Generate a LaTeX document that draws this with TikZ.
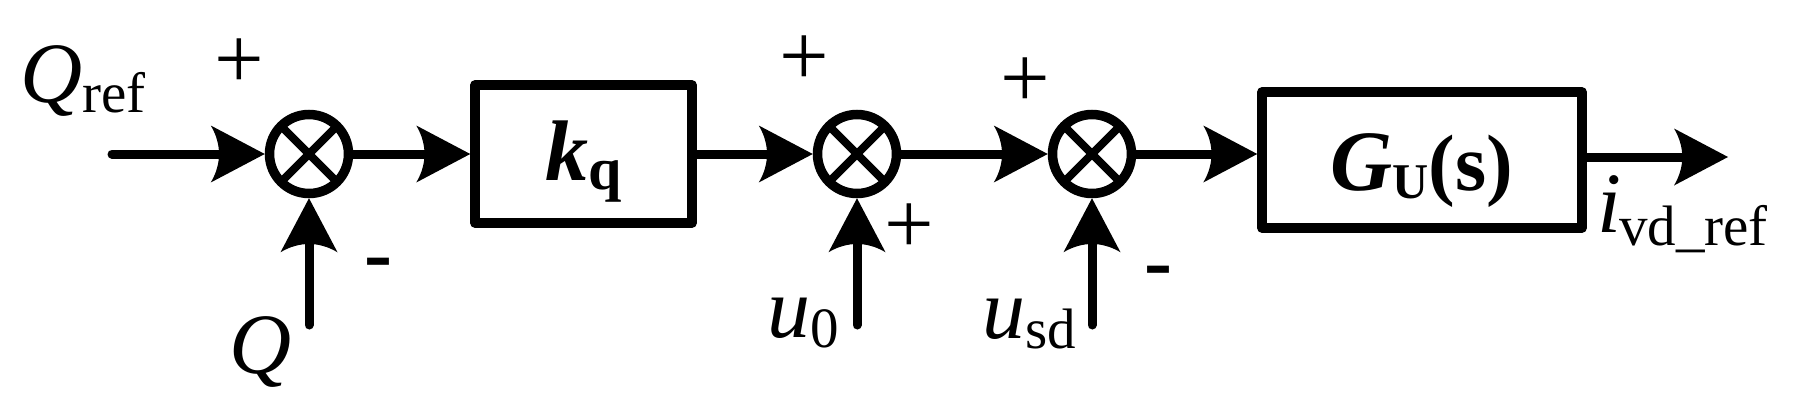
\documentclass[tikz,border=0pt]{standalone}
\usepackage{fontspec}
\setmainfont{Liberation Serif}
\usetikzlibrary{arrows.meta}
\pgfdeclarearrow{
  name = VS,
  setup code = {
    \pgfarrowssettipend{0pt}
    \pgfarrowssetlineend{-30pt}
    \pgfarrowssetbackend{-54pt}
    \pgfarrowssetvisualbackend{-46pt}
    \pgfarrowshullpoint{0pt}{0pt}
    \pgfarrowshullpoint{-54pt}{28.5pt}
    \pgfarrowshullpoint{-54pt}{-28.5pt}
  },
  drawing code = {
    \pgfpathmoveto{\pgfqpoint{0pt}{0pt}}
    \pgfpathlineto{\pgfqpoint{-54pt}{28.5pt}}
    \pgfpathcurveto{\pgfqpoint{-43pt}{10pt}}{\pgfqpoint{-43pt}{-10pt}}{\pgfqpoint{-54pt}{-28.5pt}}
    \pgfpathclose
    \pgfusepathqfill
  }
}
\newcommand\bigf{\fontsize{86}{90}\selectfont}
\newcommand\subf{\fontsize{57}{60}\selectfont}
\newcommand\lowr[2]{\raisebox{-#1pt}{\subf\upshape #2}}
\tikzset{
  sig/.style={line width=9pt, -VS},
  sumj/.style={circle, draw, line width=9.5pt, minimum size=79pt, inner sep=0pt},
  crossln/.style={line width=8pt},
  blk/.style={draw, line width=9.5pt, line join=round, inner sep=0pt},
  lbl/.style={inner sep=0pt, anchor=base west, font=\bigf\itshape},
  sgn/.style={inner sep=0pt, font=\fontsize{88}{90}\selectfont},
  neg/.style={inner sep=0pt, font=\fontsize{84}{90}\selectfont\bfseries},
}
\begin{document}
\begin{tikzpicture}[x=1pt, y=-1pt]
\useasboundingbox (0,0) rectangle (1798,415);
% summing junctions
\node[sumj] (j1) at (309,154) {};
\node[sumj] (j2) at (857,154) {};
\node[sumj] (j3) at (1092,154) {};
\foreach \j in {j1,j2,j3}{
  \draw[crossln] (\j.center) ++(45:39) -- ++(225:78);
  \draw[crossln] (\j.center) ++(135:39) -- ++(315:78);
}
% blocks
\node[blk, minimum width=217pt, minimum height=138pt, text height=72pt, text depth=20pt] (kbox) at (583.5,154)
  {\bfseries\itshape\fontsize{86}{90}\selectfont k\raisebox{-9pt}{\upshape\fontsize{60}{64}\selectfont q}};
\node[blk, minimum width=320pt, minimum height=136pt, text height=70pt, text depth=10pt] (G) at (1422,160)
  {\bfseries\itshape\fontsize{86}{90}\selectfont G\raisebox{-8pt}{\upshape\fontsize{50}{55}\selectfont U}\upshape\fontsize{80}{85}\selectfont(s)};
% free ends
\coordinate (qin) at (112,154);
\coordinate (q1b) at (309,325);
\coordinate (q2b) at (857,325);
\coordinate (q3b) at (1092,325);
\coordinate (oute) at (1728,157);
% connectors
\draw[sig, line cap=round] (qin) -- (j1);
\draw[sig, line cap=round] (q1b) -- (j1);
\draw[sig] (j1) -- (kbox);
\draw[sig] (kbox) -- (j2);
\draw[sig, line cap=round] (q2b) -- (j2);
\draw[sig] (j2) -- (j3);
\draw[sig, line cap=round] (q3b) -- (j3);
\draw[sig] (j3) -- (j3 -| G.west);
\draw[sig] (G.east |- oute) -- (oute);
% signal labels
\node[lbl] (lqref) at (20,102) {Q\lowr{10}{ref}};
\node[lbl] (lq) at (229,373) {Q};
\node[lbl] (lu0) at (767,337) {u\lowr{10}{0}};
\node[lbl] (lusd) at (982,338) {u\lowr{10}{sd}};
\node[lbl] (livd) at (1597,232) {i\kern-2pt\lowr{13}{vd\_ref}};
% signs
\node[sgn] (s1) at (239,64) {+};
\node[neg] (s2) at (378,270) {-};
\node[sgn] (s3) at (804,61) {+};
\node[sgn] (s4) at (909,229) {+};
\node[sgn] (s5) at (1025,83) {+};
\node[neg] (s6) at (1158,278) {-};
\end{tikzpicture}
\end{document}
